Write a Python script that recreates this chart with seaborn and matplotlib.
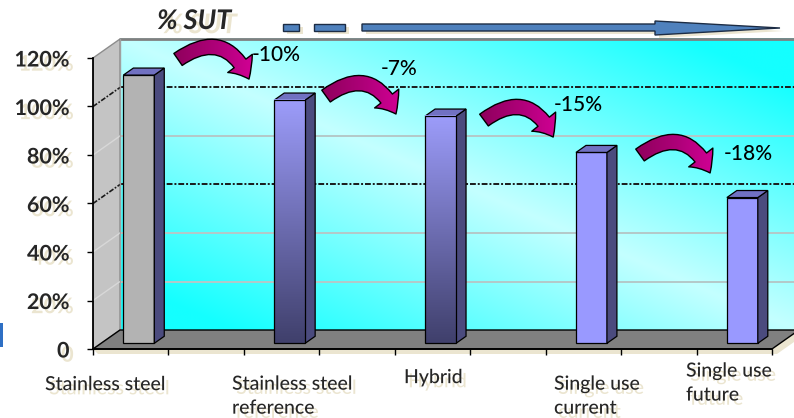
import numpy as np
import pandas as pd
import matplotlib
matplotlib.use("Agg")
import matplotlib.pyplot as plt
import seaborn as sns
from matplotlib.patches import Polygon, Rectangle, FancyArrowPatch, ArrowStyle
from matplotlib.colors import to_rgb, LinearSegmentedColormap
import matplotlib.patheffects as pe

# ---------------- data ----------------
categories = ["Stainless steel", "Stainless steel\nreference", "Hybrid",
              "Single use\ncurrent", "Single use\nfuture"]
values = [110.6, 100.3, 93.7, 78.7, 60.1]
positions = [0.5, 2.5, 4.5, 6.5, 8.5]
changes = ["-10%", "-7%", "-15%", "-18%"]
y_ticks = [0, 20, 40, 60, 80, 100, 120]
y_tick_labels = ["0", "20%", "40%", "60%", "80%", "100%", "120%"]
solid_levels = [20, 40, 80]
dashed_levels = [60, 100]
title = "% SUT"

# annotation placement (data coordinates of the front plane)
label_pos = [(-0.636, -11.2), (1.843, -11.0), (4.122, -8.3), (6.111, -11.0), (7.861, -5.6)]
arrow_tails = [(1.127, 119.4), (3.089, 104.3), (5.183, 94.4), (7.251, 80.0)]
arrow_tips = [(2.068, 111.3), (4.016, 96.9), (6.10, 87.4), (8.18, 72.6)]
change_pos = [(2.108, 121.2), (3.818, 115.5), (6.111, 100.8), (8.364, 80.4)]

# ---------------- style ----------------
sns.set_theme(style="white")
plt.rcParams["font.family"] = ["Lato", "DejaVu Sans"]

W, H = 794, 418
fig = plt.figure(figsize=(W / 100, H / 100), dpi=100)
fig.patch.set_facecolor("white")

PX_X = 75.44   # pixels per category half-unit
PX_Y = 2.425   # pixels per percent
AX_L, AX_B = 93, 349
XMAX = (W - AX_L) / PX_X
YMAX = 130
ax = fig.add_axes([AX_L / W, (H - AX_B) / H, XMAX * PX_X / W, YMAX * PX_Y / H])
ax.set_facecolor("none")

DX = 27 / PX_X      # full depth offset
DY = 19 / PX_Y
F0 = 0.30           # bar front depth fraction
BD = 0.37           # bar depth fraction
NX = 9

SHADOW = "#ebe5d0"
shadow_fx = [pe.withSimplePatchShadow(offset=(3, -3), shadow_rgbFace=SHADOW, alpha=1)]

# ---------------- bars (seaborn) ----------------
df = pd.DataFrame({"category": categories, "value": values, "pos": positions})
front_colors = ["#b3b3b3", "#9999ff", "#9999ff", "#9999ff", "#9999ff"]
sns.barplot(data=df, x="pos", y="value", hue="category",
            palette=dict(zip(categories, front_colors)), native_scale=True,
            dodge=False, width=0.205, legend=False, ax=ax, saturation=1,
            edgecolor="black", linewidth=0.9, zorder=3)
bars = sorted([p for p in ax.patches if isinstance(p, Rectangle)], key=lambda r: r.get_x())

# ---------------- back wall ----------------
n = 300
u = np.linspace(0, 1, n)[None, :]
w = np.linspace(0, 1, n)[:, None]
t = np.clip(np.abs(u + w - 1) * 1.2, 0, 1)
pale = np.array(to_rgb("#c4ffff"))
bright = np.array(to_rgb("#14ffff"))
img = pale * (1 - t[..., None]) + bright * t[..., None]
ax.imshow(img, extent=[DX, NX + DX, DY, 120 + DY], origin="lower", aspect="auto",
          zorder=0, interpolation="bilinear")

# side wall
ax.add_patch(Polygon([(0, 0), (DX, DY), (DX, 120 + DY), (0, 120)], closed=True,
                     fc="#c4c4c4", ec="#8c8c8c", lw=1, zorder=0.5))

# gridlines
for v in solid_levels:
    ax.plot([DX, NX + DX], [v + DY] * 2, color="#b4c8c8", lw=1.4, zorder=1)
    ax.plot([0, DX], [v, v + DY], color="#d8d8d8", lw=1, zorder=1)
for v in dashed_levels:
    ax.plot([DX, NX + DX], [v + DY] * 2, color="#1a1a1a", lw=1.4,
            ls=(0, (3, 1, 1, 1)), zorder=1.2)
    ax.plot([0, DX], [v, v + DY], color="#1a1a1a", lw=1.2, ls=(0, (3, 1, 1, 1)), zorder=1.2)
ax.plot([DX, NX + DX], [120 + DY] * 2, color="#808080", lw=2, zorder=1.3, clip_on=False)
ax.plot([DX, DX], [DY, 120 + DY], color="#a0a0a0", lw=1, zorder=1.3)

# floor + its shadow
ox, oy = 5 / PX_X, -5 / PX_Y
ax.add_patch(Polygon([(0 + ox, 0 + oy), (NX + ox, oy), (NX + DX + ox, DY + oy), (NX + DX, DY), (NX, 0), (0, 0)],
                     closed=True, fc=SHADOW, ec="none", zorder=0.4, clip_on=False))
ax.add_patch(Polygon([(0, 0), (NX, 0), (NX + DX, DY), (DX, DY)], closed=True,
                     fc="#808080", ec="black", lw=1, zorder=1.5, clip_on=False))

# ---------------- 3D bar faces ----------------
grad_cmap = LinearSegmentedColormap.from_list("g", ["#40406c", "#9c9cfa"])
for i, r in enumerate(bars):
    xl = r.get_x() + F0 * DX
    y0 = F0 * DY
    bw = r.get_width()
    h = r.get_height()
    r.set_x(xl)
    r.set_y(y0)
    r.set_clip_on(False)
    xr = xl + bw
    ax.add_patch(Polygon([(xr, y0), (xr + BD * DX, y0 + BD * DY), (xr + BD * DX, y0 + h + BD * DY), (xr, y0 + h)],
                         closed=True, fc="#4b4b7e", ec="black", lw=0.9, zorder=3))
    ax.add_patch(Polygon([(xl, y0 + h), (xr, y0 + h), (xr + BD * DX, y0 + h + BD * DY), (xl + BD * DX, y0 + h + BD * DY)],
                         closed=True, fc="#7171c2", ec="black", lw=0.9, zorder=3))
    if i in (1, 2):
        g = np.linspace(0, 1, 100)[:, None]
        ax.imshow(g, extent=[xl, xr, y0, y0 + h], origin="lower", aspect="auto",
                  cmap=grad_cmap, zorder=3.05, interpolation="bilinear")
        r.set_facecolor("none")
        r.set_zorder(3.1)

# ---------------- curved arrows ----------------
arrow_cmap = LinearSegmentedColormap.from_list("m", ["#8a0058", "#b0007a", "#e000a0"])
astyle = ArrowStyle.Simple(head_length=13, head_width=22, tail_width=10.5)
for (ta, tb, s, cp) in zip(arrow_tails, arrow_tips, changes, change_pos):
    arr = FancyArrowPatch(ta, tb, arrowstyle=astyle,
                          connectionstyle="arc3,rad=-0.6", mutation_scale=1,
                          fc="#c0008a", ec="none", lw=0, zorder=5, clip_on=False,
                          shrinkA=0, shrinkB=0)
    ax.add_patch(arr)
    gx = np.linspace(0, 1, 100)[None, :]
    im = ax.imshow(gx, extent=[ta[0] - 0.15, tb[0] + 0.25, tb[1] - 6, ta[1] + 14],
                   origin="lower", aspect="auto", cmap=arrow_cmap, zorder=5.1,
                   interpolation="bilinear")
    im.set_clip_path(arr)
    edge = FancyArrowPatch(ta, tb, arrowstyle=astyle,
                           connectionstyle="arc3,rad=-0.6", mutation_scale=1,
                           fc="none", ec="black", lw=1, zorder=5.2, clip_on=False,
                           shrinkA=0, shrinkB=0)
    ax.add_patch(edge)
    ax.text(cp[0], cp[1], s, fontsize=15, fontweight=500, ha="left", va="center",
            color="black", zorder=6)

# ---------------- axes ----------------
ax.set_xlim(0, XMAX)
ax.set_ylim(0, YMAX)
for sp in ["top", "right"]:
    ax.spines[sp].set_visible(False)
ax.spines["left"].set_bounds(0, 120)
ax.spines["bottom"].set_bounds(0, NX)
for sp in ["left", "bottom"]:
    ax.spines[sp].set_color("black")
    ax.spines[sp].set_linewidth(1.3)
    ax.spines[sp].set_zorder(2)
ax.set_xticks(range(NX + 1))
ax.set_xticklabels([])
ax.set_yticks(y_ticks)
ax.set_yticklabels(y_tick_labels)
ax.tick_params(axis="x", bottom=True, direction="out", length=4, width=1, color="black")
ax.tick_params(axis="y", left=True, direction="out", length=4, width=1, color="black",
               pad=13, labelsize=15.5)
for lbl in ax.get_yticklabels():
    lbl.set_fontweight("bold")
    lbl.set_path_effects(shadow_fx)
ax.set_xlabel("")
ax.set_ylabel("")

for cat, (lx, ly) in zip(categories, label_pos):
    ax.text(lx, ly, cat, fontsize=14, fontweight=500, ha="left", va="top", linespacing=1.5,
            path_effects=shadow_fx, clip_on=False)

# ---------------- title & decorations ----------------
fig.text(157 / W, 1 - 29 / H, title, fontsize=19.5, fontweight="bold", style="italic",
         ha="left", va="baseline",
         path_effects=[pe.withSimplePatchShadow(offset=(4, -3), shadow_rgbFace=SHADOW, alpha=1)])


def fpts(pts):
    return [(x / W, 1 - y / H) for x, y in pts]


blue = "#4f81bd"
shapes = [
    [(283, 24), (299, 24), (299, 31), (283, 31)],
    [(314, 24), (345, 24), (345, 31), (314, 31)],
    [(362, 24), (655, 24), (655, 21), (780, 28), (655, 35), (655, 31), (362, 31)],
]
for s in shapes:
    fig.add_artist(Polygon(fpts([(x + 4, y + 3) for x, y in s]), closed=True,
                           transform=fig.transFigure, fc=SHADOW, ec="none", zorder=1))
    fig.add_artist(Polygon(fpts(s), closed=True, transform=fig.transFigure,
                           fc=blue, ec="#1c2c44", lw=1, zorder=2))

fig.add_artist(Rectangle((0, 1 - 347 / H), 3 / W, 24 / H, transform=fig.transFigure,
                         fc="#2e6fc4", ec="none"))

fig.savefig("out.png", dpi=100, facecolor="white")
